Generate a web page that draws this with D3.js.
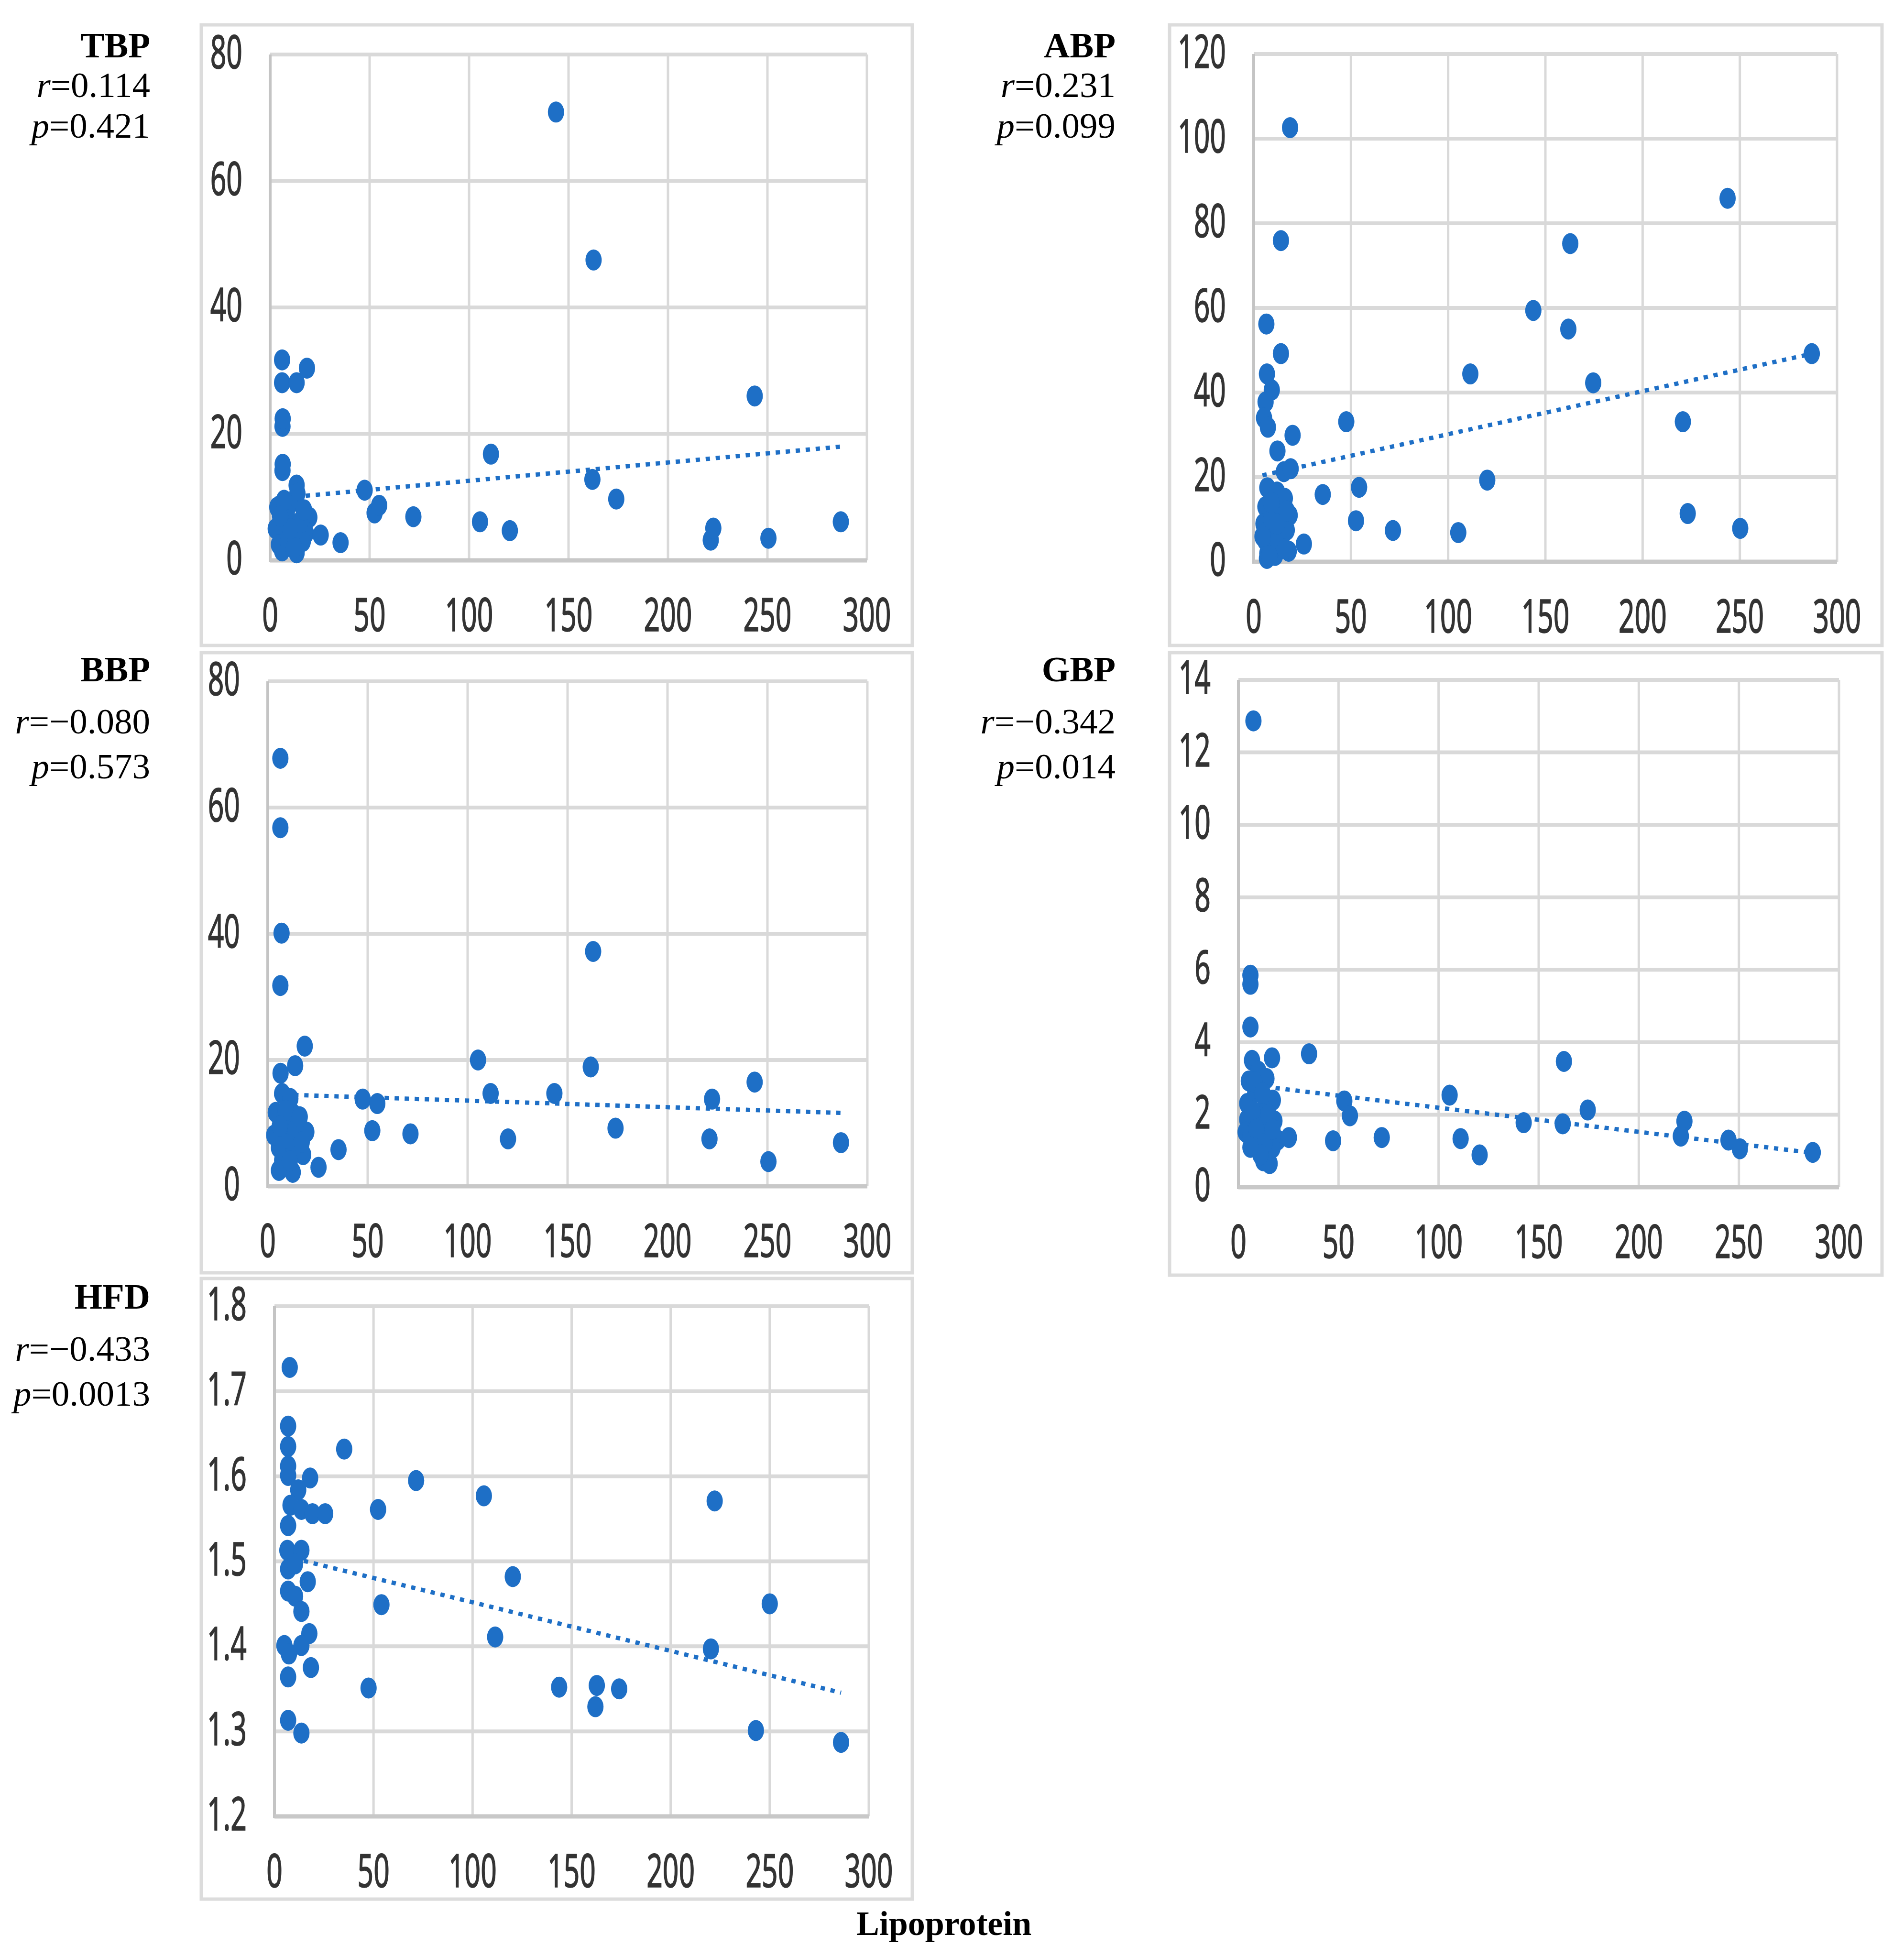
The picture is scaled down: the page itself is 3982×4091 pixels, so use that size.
<!DOCTYPE html>
<html>
<head>
<meta charset="utf-8">
<script src="https://cdn.jsdelivr.net/npm/d3@7"></script>
<style>
  html, body { margin: 0; padding: 0; background: #fff; }
  svg { display: block; }
</style>
</head>
<body>
<div id="chart"></div>
<script>
const W = 3982, H = 4091;

const panelNames = ['TBP', 'ABP', 'BBP', 'GBP', 'HFD'];
const rValues = ['0.114', '0.231', '\u22120.080', '\u22120.342', '\u22120.433'];
const pValues = ['0.421', '0.099', '0.573', '0.014', '0.0013'];
const xTicks = [0, 50, 100, 150, 200, 250, 300];
const xTitle = 'Lipoprotein';

// TBP
const tbpX = [6, 6, 13.3, 18.5, 6.2, 6.3, 6.2, 6.3, 13.3, 13.7, 3.6, 10, 19.7, 6, 14, 6, 10, 6, 13.3, 18, 16.4, 2.8, 8.4, 4.4, 11, 8, 16,
  9, 12, 15, 7, 17, 10, 5,
  143.7, 162.6, 162, 174, 111, 105.5, 120.5, 72, 47.5, 52.5, 54.8, 25.4, 35.4, 221.5, 222.8, 243.6, 250.5, 286.9];
const tbpY = [31.7, 28.1, 28.1, 30.4, 21.2, 22.4, 14.2, 15.2, 11.9, 10.6, 8.4, 8.9, 6.8, 6.3, 5.1, 3.8, 2.5, 1.5, 1.2, 4.3, 3, 5, 7.3, 2.5, 4, 5.5, 6.5,
  3, 2, 6, 9.5, 8, 5, 7,
  70.9, 47.5, 12.8, 9.7, 16.8, 6.1, 4.7, 6.9, 11.1, 7.5, 8.7, 4.0, 2.8, 3.2, 5.1, 26, 3.5, 6.1];
const tbpTicks = [0, 20, 40, 60, 80];
const tbpTrend = [9.70, 0.0289];

// ABP
const abpX = [6.5, 14, 6.8, 9.3, 6.1, 5.3, 7.3, 20, 12.2, 15.5, 19, 7, 12, 16, 6, 10, 15, 18.5, 5, 8, 13, 17, 6, 10, 14, 18, 7, 6.8, 11, 9, 4.5,
  9, 13, 16, 8, 12, 17,
  18.7, 14, 243.7, 162.8, 143.8, 161.8, 287, 111.4, 174.6, 47.6, 220.7, 120.1, 54.2, 35.5, 223.2, 52.6, 71.6, 105.2, 250.2, 25.8];
const abpY = [56.2, 49.2, 44.4, 40.6, 37.8, 34, 31.8, 29.9, 26.2, 21.3, 22, 17.5, 16.5, 15, 13, 12, 10.5, 11, 9, 8, 7, 7.5, 5, 4, 3.5, 2.5, 2, 0.8, 1.5, 10, 6,
  14, 5, 3, 1.5, 9, 12,
  102.6, 75.9, 85.9, 75.2, 59.4, 55, 49.2, 44.4, 42.3, 33.1, 33.1, 19.3, 17.6, 15.9, 11.4, 9.7, 7.4, 6.9, 7.9, 4.2];
const abpTicks = [0, 20, 40, 60, 80, 100, 120];
const abpTrend = [19.98, 0.1017];

// BBP
const bbpX = [18.5, 13.7, 6.4, 7.2, 11.3, 4, 12.9, 19.3, 8, 15.3, 5.6, 12.9, 17.7, 7.2, 5.6, 12.5, 3.2, 9.7,
  10, 14, 9, 16, 6, 11, 17,
  6.3, 6.3, 6.9, 6.3, 162.8, 161.6, 105.2, 111.5, 143.4, 47.5, 54.8, 52.3, 71.4, 120.2, 174, 35.4, 25.4, 222.3, 221, 243.6, 250.5, 286.8];
const bbpY = [22.2, 19.1, 17.9, 14.7, 13.9, 11.7, 11.4, 8.6, 9.4, 7.1, 6.1, 5.6, 5.0, 4.1, 2.5, 2.2, 8.1, 7.6,
  10, 9, 12, 11, 9.5, 4, 7,
  67.8, 56.8, 40.1, 31.8, 37.2, 18.9, 20, 14.7, 14.7, 13.8, 13.1, 8.8, 8.3, 7.5, 9.2, 5.8, 3.0, 13.8, 7.5, 16.5, 3.9, 6.9];
const bbpTicks = [0, 20, 40, 60, 80];
const bbpTrend = [14.6, -0.0104];

// GBP
const gbpX = [6.8, 10, 5.2, 14, 8.4, 17.2, 4.4, 12.4, 4.4, 18, 10, 3.6, 14.8, 6, 19.6, 12.4, 15.6, 10, 17,
  8, 12, 7, 15, 9, 13, 11, 17, 6,
  7.5, 6, 6, 6, 35.3, 16.8, 162.6, 105.5, 174.5, 52.9, 55.7, 222.8, 221, 142.5, 162, 244.8, 250.5, 286.9, 47.3, 71.6, 111, 120.5, 25.2];
const gbpY = [3.5, 3.2, 2.93, 3.0, 2.62, 2.4, 2.31, 2.14, 1.87, 1.83, 1.74, 1.52, 1.48, 1.43, 1.30, 0.73, 0.65, 1.08, 1.08,
  2.9, 2.6, 2.1, 2.0, 1.6, 1.2, 0.9, 1.6, 1.1,
  12.87, 5.85, 5.6, 4.42, 3.68, 3.57, 3.47, 2.54, 2.13, 2.38, 1.97, 1.82, 1.41, 1.78, 1.75, 1.3, 1.06, 0.96, 1.28, 1.37, 1.34, 0.89, 1.37];
const gbpTicks = [0, 2, 4, 6, 8, 10, 12, 14];
const gbpTrend = [2.86, -0.00667];

// HFD
const hfdX = [7.7, 6.9, 6.9, 6.9, 6.9, 18, 12, 8.1, 13.6, 19.2, 25.6, 6.9, 6.5, 13.6, 6.9, 10.4, 16.8, 6.9, 10.4, 13.6, 17.6, 13.6, 5, 7.3, 6.9, 18.4, 6.9, 13.6,
  35.2, 52.3, 54, 47.5, 71.5, 105.7, 111.4, 120.3, 143.7, 162, 162.7, 174, 220.3, 222.2, 243, 250, 286];
const hfdY = [1.728, 1.659, 1.635, 1.612, 1.601, 1.598, 1.584, 1.566, 1.561, 1.556, 1.556, 1.542, 1.513, 1.513, 1.491, 1.497, 1.476, 1.465, 1.459, 1.441, 1.415, 1.401, 1.401, 1.391, 1.364, 1.375, 1.313, 1.298,
  1.632, 1.561, 1.449, 1.351, 1.595, 1.577, 1.411, 1.482, 1.352, 1.329, 1.354, 1.350, 1.397, 1.571, 1.301, 1.450, 1.287];
const hfdTicks = [1.2, 1.3, 1.4, 1.5, 1.6, 1.7, 1.8];
const hfdTrend = [1.509, -0.000572];

const seriesX = [tbpX, abpX, bbpX, gbpX, hfdX];
const seriesY = [tbpY, abpY, bbpY, gbpY, hfdY];
const yTickSets = [tbpTicks, abpTicks, bbpTicks, gbpTicks, hfdTicks];
const trends = [tbpTrend, abpTrend, bbpTrend, gbpTrend, hfdTrend];

// layout (pixels)
const layout = [
  {frame: [421, 52, 1908, 1350],   plot: [565, 1813, 1172, 114],   lab: [314, 120, 203, 288]},
  {frame: [2446, 52, 3936, 1350],  plot: [2622, 3842, 1175, 113],  lab: [2333, 120, 203, 288]},
  {frame: [421, 1365, 1908, 2662], plot: [560, 1814, 2481, 1425],  lab: [314, 1425, 1534, 1628]},
  {frame: [2446, 1365, 3936, 2667], plot: [2590, 3846, 2483, 1422], lab: [2333, 1425, 1534, 1628]},
  {frame: [421, 2674, 1908, 3972], plot: [574, 1817, 3799, 2732],  lab: [314, 2737, 2846, 2940]}
];

const dotColor = '#1e6fc6';
const gridColor = '#d9d9d9';
const tickColor = '#333333';
const serif = '"Liberation Serif", "Times New Roman", serif';
const sans = '"Noto Sans", "Open Sans", sans-serif';

const svg = d3.select('#chart').append('svg')
  .attr('width', W).attr('height', H)
  .attr('viewBox', `0 0 ${W} ${H}`);

svg.append('rect').attr('width', W).attr('height', H).attr('fill', '#fff');

function drawPanel(i) {
  const L = layout[i];
  const g = svg.append('g').attr('class', 'panel panel-' + panelNames[i]);
  const yt = yTickSets[i];

  // frame of the pasted chart
  g.append('rect')
    .attr('x', L.frame[0]).attr('y', L.frame[1])
    .attr('width', L.frame[2] - L.frame[0]).attr('height', L.frame[3] - L.frame[1])
    .attr('fill', '#fff').attr('stroke', '#dcdcdc').attr('stroke-width', 7);

  const x = d3.scaleLinear().domain([0, 300]).range([L.plot[0], L.plot[1]]);
  const y = d3.scaleLinear().domain([yt[0], yt[yt.length - 1]]).range([L.plot[2], L.plot[3]]);

  // vertical grid
  g.append('g').selectAll('line').data(xTicks.slice(1)).enter().append('line')
    .attr('x1', d => x(d)).attr('x2', d => x(d))
    .attr('y1', y.range()[0]).attr('y2', y.range()[1])
    .attr('stroke', gridColor).attr('stroke-width', 5);
  // horizontal grid
  g.append('g').selectAll('line').data(yt.slice(1)).enter().append('line')
    .attr('x1', x(0)).attr('x2', x(300))
    .attr('y1', d => y(d)).attr('y2', d => y(d))
    .attr('stroke', gridColor).attr('stroke-width', 8);
  // axis lines
  g.append('line').attr('x1', x(0)).attr('x2', x(0))
    .attr('y1', y.range()[0] + 4).attr('y2', y.range()[1])
    .attr('stroke', '#c4c4c4').attr('stroke-width', 6);
  g.append('line').attr('x1', x(0)).attr('x2', x(300))
    .attr('y1', y.range()[0]).attr('y2', y.range()[0])
    .attr('stroke', '#c8c8c8').attr('stroke-width', 9);

  // tick labels
  const fmt = i === 4 ? d3.format('.1f') : d3.format('d');
  g.append('g').selectAll('text').data(yt).enter().append('text')
    .attr('transform', d => `translate(${x(0) - 58},${y(d) + 29}) scale(0.84,1.38)`)
    .attr('text-anchor', 'end')
    .attr('font-family', sans).attr('font-size', 70).attr('fill', tickColor)
    .attr('stroke', tickColor).attr('stroke-width', 1.2)
    .text(fmt);
  g.append('g').selectAll('text').data(xTicks).enter().append('text')
    .attr('transform', d => `translate(${x(d)},${y.range()[0] + 148}) scale(0.84,1.38)`)
    .attr('text-anchor', 'middle')
    .attr('font-family', sans).attr('font-size', 70).attr('fill', tickColor)
    .attr('stroke', tickColor).attr('stroke-width', 1.2)
    .text(d => d);

  // trend line (linear fit)
  const tr = trends[i];
  const xs = seriesX[i];
  const x0 = d3.min(xs), x1 = d3.max(xs);
  g.append('line')
    .attr('x1', x(x0)).attr('y1', y(tr[0] + tr[1] * x0))
    .attr('x2', x(x1)).attr('y2', y(tr[0] + tr[1] * x1))
    .attr('stroke', dotColor).attr('stroke-width', 9)
    .attr('stroke-dasharray', '9 12');

  // points
  const pts = xs.map((v, k) => ({x: v, y: seriesY[i][k]}));
  g.append('g').selectAll('ellipse').data(pts).enter().append('ellipse')
    .attr('cx', d => x(d.x)).attr('cy', d => y(d.y))
    .attr('rx', 17).attr('ry', 22)
    .attr('fill', dotColor);

  // side label
  const lab = g.append('g').attr('font-family', serif).attr('font-size', 75).attr('fill', '#000');
  lab.append('text').attr('x', L.lab[0]).attr('y', L.lab[1])
    .attr('text-anchor', 'end').attr('font-weight', 'bold').text(panelNames[i]);
  const rt = lab.append('text').attr('x', L.lab[0]).attr('y', L.lab[2]).attr('text-anchor', 'end');
  rt.append('tspan').attr('font-style', 'italic').text('r');
  rt.append('tspan').text('=' + rValues[i]);
  const pt = lab.append('text').attr('x', L.lab[0]).attr('y', L.lab[3]).attr('text-anchor', 'end');
  pt.append('tspan').attr('font-style', 'italic').text('p');
  pt.append('tspan').text('=' + pValues[i]);
}

for (let i = 0; i < panelNames.length; i++) drawPanel(i);

svg.append('text')
  .attr('x', 1974).attr('y', 4047)
  .attr('text-anchor', 'middle')
  .attr('font-family', serif).attr('font-size', 72).attr('font-weight', 'bold')
  .text(xTitle);
</script>
</body>
</html>
